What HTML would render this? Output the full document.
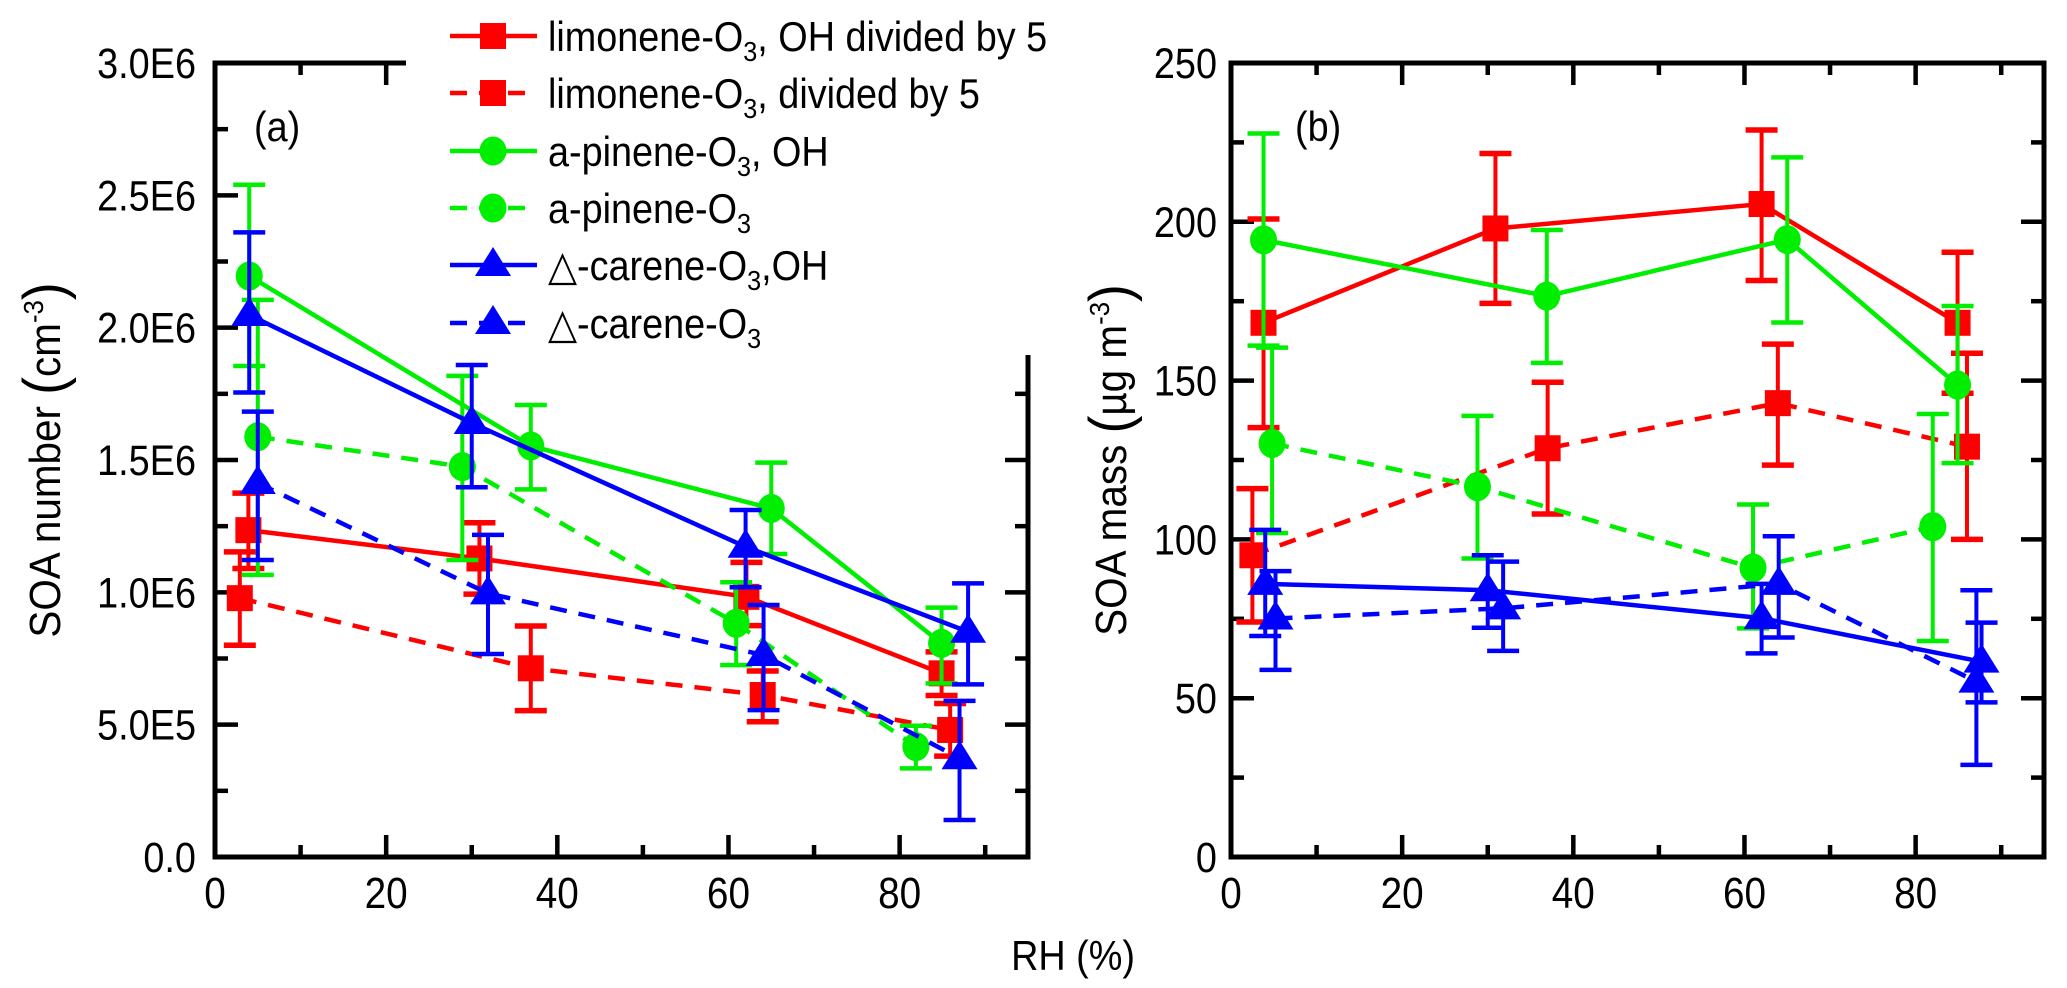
<!DOCTYPE html>
<html><head><meta charset="utf-8"><style>
html,body{margin:0;padding:0;background:#fff;}
svg{display:block;font-family:"Liberation Sans",Arial,sans-serif;}
</style></head><body>
<svg id="chart" width="2067" height="988" viewBox="0 0 2067 988" xmlns="http://www.w3.org/2000/svg">
<g id="axes"></g>
<g id="series"></g>
<g id="legend"></g>
</svg>
<script>
// ---- data ----
const seriesNames = ["limonene-OH","limonene","apinene-OH","apinene","carene-OH","carene"];
// panel (a): SOA number, units 1E6 cm-3
const aRH = [
 [3.9,30.9,62.1,84.9],
 [2.9,36.9,64.0,85.9],
 [4.0,36.9,65.0,84.9],
 [5.0,28.9,60.9,81.9],
 [4.0,30.0,62.0,88.0],
 [5.0,31.9,64.1,87.0]];
const aVal = [
 [1.235,1.128,0.983,0.694],
 [0.978,0.713,0.612,0.480],
 [2.195,1.553,1.317,0.807],
 [1.588,1.475,0.883,0.417],
 [2.048,1.640,1.172,0.851],
 [1.413,0.996,0.763,0.373]];
const aHi = [
 [1.375,1.263,1.113,0.775],
 [1.153,0.873,0.703,0.580],
 [2.540,1.708,1.490,0.942],
 [2.105,1.818,1.038,0.496],
 [2.360,1.859,1.311,1.034],
 [1.683,1.217,0.952,0.590]];
const aLo = [
 [1.090,0.993,0.874,0.610],
 [0.800,0.553,0.511,0.381],
 [1.855,1.389,1.145,0.656],
 [1.066,1.122,0.725,0.335],
 [1.755,1.397,1.019,0.652],
 [1.122,0.767,0.555,0.140]];
// panel (b): SOA mass, ug m-3
const bRH = [
 [3.8,30.9,62.0,84.9],
 [2.5,37.0,63.9,86.0],
 [3.8,36.9,65.0,84.9],
 [4.8,28.8,61.0,82.0],
 [4.0,30.0,62.0,87.7],
 [5.2,31.8,64.0,87.1]];
const bVal = [
 [168.2,197.9,205.6,168.2],
 [95,128.7,142.9,129.2],
 [194.3,176.6,194.4,148.6],
 [130.2,116.6,91,104],
 [86,84,75.2,61.5],
 [75.1,78.3,86,55.2]];
const bHi = [
 [200.9,221.5,228.9,190.4],
 [116,149.5,161.5,158.6],
 [227.8,197.4,220.3,173.5],
 [160.4,138.9,111,139.5],
 [103,95,86,73.8],
 [90,93,101,84]];
const bLo = [
 [135.2,174.3,181.5,146],
 [74,108,123.4,100],
 [161,155.6,168.3,124],
 [102,94,72,68],
 [69.6,72.2,64.1,48.7],
 [58.9,64.9,69.1,29]];
const aYTicks = ["0.0","5.0E5","1.0E6","1.5E6","2.0E6","2.5E6","3.0E6"];
const bYTicks = ["0","50","100","150","200","250"];
const xTicks = ["0","20","40","60","80"];

// ---- styles ----
const colors = ["#ff0000","#ff0000","#00ee00","#00ee00","#0000ff","#0000ff"];
const dashed = [false,true,false,true,false,true];
const markers = ["square","square","circle","circle","tri","tri"];
const NS = "http://www.w3.org/2000/svg";
function mk(tag, attrs, parent){const e=document.createElementNS(NS,tag);for(const k in attrs)e.setAttribute(k,attrs[k]);parent.appendChild(e);return e;}
const axesG=document.getElementById('axes'), serG=document.getElementById('series'), legG=document.getElementById('legend');

const TOP=63, BOT=857;
const pa={x0:215,x1:1028,ymax:3.0};
const pb={x0:1231,x1:2044,ymax:250};
const PXU=(1028-215)/95;
function xs(p,v){return p.x0+v*PXU;}
function ys(p,v){return BOT-(v/p.ymax)*(BOT-TOP);}

function line(x1,y1,x2,y2,w,parent,name,col){const l=mk('line',{x1,y1,x2,y2,stroke:col||'#000','stroke-width':w},parent);

return l;}
function text(x,y,s,anchor,size,parent,name,sx){
  const sc=sx||0.9;
  const t=mk('text',{x:x/sc,y,'text-anchor':anchor,'font-size':size,fill:'#000',transform:`scale(${sc},1)`},parent);t.textContent=s;
  
  return t;}

function frame(p,full){
  const w=5;
  line(p.x0,TOP-2,p.x0,BOT+2.5,w,axesG,'y-axis-left');
  line(p.x0-2.5,BOT,p.x1+2.5,BOT,w,axesG,'x-axis-bottom');
  if(full){
    line(p.x0-2.5,TOP,p.x1+2.5,TOP,w,axesG,'x-axis-top');
    line(p.x1,TOP-2.5,p.x1,BOT+2.5,w,axesG,'y-axis-right');
  } else {
    line(p.x0-2.5,TOP,406,TOP,w,axesG,'x-axis-top');
    line(p.x1,355,p.x1,BOT+2.5,w,axesG,'y-axis-right');
  }
  for(let v=10;v<95;v+=10){
    const X=xs(p,v), L=(v%20===0)?22:12;
    line(X,BOT,X,BOT-L,4.5,axesG,'x-tick-bottom');
    if(full || X<406) line(X,TOP,X,TOP+L,4.5,axesG,'x-tick-top');
  }
  xTicks.forEach((s,i)=>text(xs(p,i*20),908,s,'middle',44,axesG,'x-tick-label',0.88));
  const n=(full?10:12);
  for(let i=1;i<n;i++){
    const v=p.ymax*i/n, Y=ys(p,v), L=(i%2===0)?23:13;
    line(p.x0,Y,p.x0+L,Y,4.5,axesG,'y-tick-left');
    if(full || Y>355) line(p.x1,Y,p.x1-L,Y,4.5,axesG,'y-tick-right');
  }
}
frame(pa,false);
frame(pb,true);
aYTicks.forEach((s,i)=>text(196,ys(pa,i*0.5)+15,s,'end',43,axesG,'y-tick-label-a',0.88));
bYTicks.forEach((s,i)=>text(1217,ys(pb,i*50)+15,s,'end',43,axesG,'y-tick-label-b',0.88));
text(254,141,'(a)','start',42,axesG,'panel-label-a',0.9);
text(1295,141,'(b)','start',42,axesG,'panel-label-b',0.9);

const t1=mk('text',{x:0,y:0,'text-anchor':'middle','font-size':44,transform:'translate(60,460) rotate(-90) scale(0.92,1)'},axesG);


t1.innerHTML='SOA number <tspan font-size="58" dy="4">(</tspan><tspan dy="-4">cm</tspan><tspan font-size="28" dy="-17">-3</tspan><tspan font-size="58" dy="21">)</tspan>';
const t2=mk('text',{x:0,y:0,'text-anchor':'middle','font-size':44,transform:'translate(1126,460) rotate(-90) scale(0.92,1)'},axesG);


t2.innerHTML='SOA mass <tspan font-size="58" dy="4">(</tspan><tspan dy="-4">µg m</tspan><tspan font-size="28" dy="-17">-3</tspan><tspan font-size="58" dy="21">)</tspan>';
text(1073,970,'RH (%)','middle',42,axesG,'x-axis-title',0.9);

function marker(kind,x,y,col,parent,name){
  let m;
  if(kind==='square') m=mk('rect',{x:x-13,y:y-13,width:26,height:26,fill:col},parent);
  else if(kind==='circle') m=mk('ellipse',{cx:x,cy:y,rx:13.5,ry:14.5,fill:col},parent);
  else m=mk('polygon',{points:`${x},${y-18} ${x-18},${y+11} ${x+18},${y+11}`,fill:col},parent);
  
  
  return m;
}

function drawPanel(p,RH,V,HI,LO,tag){
  for(let s=0;s<6;s++){
    const g=mk('g',{},serG);
    
    
    const col=colors[s];
    const pts=RH[s].map((r,i)=>xs(p,r)+','+ys(p,V[s][i])).join(' ');
    const pl=mk('polyline',{points:pts,fill:'none',stroke:col,'stroke-width':4.5},g);
    if(dashed[s]) pl.setAttribute('stroke-dasharray','17 12');
    
    
    RH[s].forEach((r,i)=>{
      const X=xs(p,r), yh=ys(p,HI[s][i]), yl=ys(p,LO[s][i]);
      const cw=(s<2)?5.5:4.5;
      line(X,yh,X,yl,4,g,'error-bar',col);
      line(X-16,yh,X+16,yh,cw,g,'error-cap-top',col);
      line(X-16,yl,X+16,yl,cw,g,'error-cap-bottom',col);
      marker(markers[s],X,ys(p,V[s][i]),col,g,tag+'-point-'+seriesNames[s]);
    });
  }
}
drawPanel(pa,aRH,aVal,aHi,aLo,'a');
drawPanel(pb,bRH,bVal,bHi,bLo,'b');

const legendRows=[36,93,151,208,265,323];
const legendHTML=[
 'limonene-O<tspan font-size="28" dy="10">3</tspan><tspan dy="-10">, OH divided by 5</tspan>',
 'limonene-O<tspan font-size="28" dy="10">3</tspan><tspan dy="-10">, divided by 5</tspan>',
 'a-pinene-O<tspan font-size="28" dy="10">3</tspan><tspan dy="-10">, OH</tspan>',
 'a-pinene-O<tspan font-size="28" dy="10">3</tspan>',
 '△-carene-O<tspan font-size="28" dy="10">3</tspan><tspan dy="-10">,OH</tspan>',
 '△-carene-O<tspan font-size="28" dy="10">3</tspan>'];
legendRows.forEach((y,s)=>{
  const g=mk('g',{},legG);
  
  
  const l=mk('line',{x1:450,y1:y,x2:537,y2:y,stroke:colors[s],'stroke-width':4.5},g);
  if(dashed[s]) l.setAttribute('stroke-dasharray','17 12');
  
  
  marker(markers[s],493,y,colors[s],g,'legend-marker');
  const t=mk('text',{x:548/0.9,y:y+15,'font-size':42,fill:'#000',transform:'scale(0.9,1)'},g);
  
  
  t.innerHTML=legendHTML[s];
});
</script>
</body></html>
